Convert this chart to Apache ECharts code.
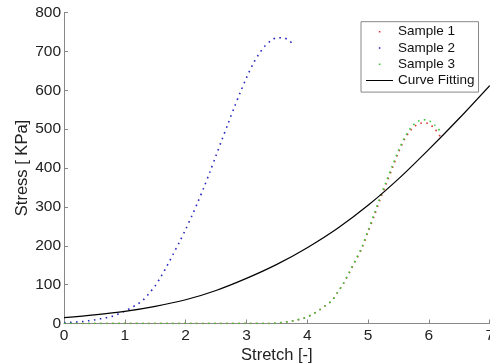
<!DOCTYPE html>
<html>
<head>
<meta charset="utf-8">
<script src="https://cdn.jsdelivr.net/npm/echarts@6/dist/echarts.min.js"></script>
<style>
    html, body { margin: 0; padding: 0; background: #fff; }
    #chart { width: 490px; height: 364px; }
</style>
</head>
<body>
<div id="chart"></div>
<script>
    // sample 2 (the early, blue curve)
    let stretch2 = [0, 0.1, 0.2, 0.3, 0.4, 0.5, 0.6, 0.7, 0.8, 0.9,
        1.0, 1.1, 1.2, 1.3, 1.4, 1.5, 1.6, 1.7, 1.8, 1.9,
        2.0, 2.1, 2.2, 2.3, 2.4, 2.5, 2.6, 2.7, 2.8, 2.9,
        3.0, 3.1, 3.2, 3.3, 3.4, 3.5, 3.6, 3.7, 3.76];
    let stress2 = [2, 3, 4, 5, 7, 9, 12, 15, 19, 25,
        32, 40, 49, 60, 78, 97, 122, 150, 180, 210,
        242, 276, 312, 350, 390, 432, 474, 515, 556, 595,
        632, 665, 692, 713, 727, 735, 735, 728, 719];

    // samples 1 and 3 (late curves)
    let stretch13 = [0, 1, 2, 3, 3.4, 3.5, 3.6, 3.7, 3.8, 3.9,
        4.0, 4.1, 4.2, 4.3, 4.4, 4.5, 4.6, 4.7, 4.8, 4.9,
        5.0, 5.1, 5.2, 5.3, 5.4, 5.5, 5.6, 5.7, 5.8, 5.9,
        6.0, 6.1, 6.2];
    let stress1 = [0, 0, 0, 0, 0, 1, 3, 5, 8, 12,
        17, 25, 35, 46, 58, 80, 104, 133, 163, 194,
        236, 276, 320, 360, 400, 440, 474, 497, 511, 516,
        514, 500, 478];
    let stress3 = [0, 0, 0, 0, 0, 1, 3, 5, 8, 12,
        17, 25, 35, 46, 58, 80, 105, 135, 165, 197,
        240, 282, 326, 366, 406, 445, 478, 503, 518, 524,
        522, 510, 492];

    // fitted curve
    let stretchFit = [0, 0.5, 1, 1.5, 2, 2.5, 3, 3.5, 4, 4.5, 5, 5.5, 6, 6.5, 7];
    let stressFit = [15, 22, 31, 44, 61, 85, 116, 152, 195, 245, 304, 372, 448, 528, 612];

    let xTicks = [0, 1, 2, 3, 4, 5, 6, 7];
    let yTicks = [0, 100, 200, 300, 400, 500, 600, 700, 800];

    let pair = (xs, ys) => xs.map((x, i) => [x, ys[i]]);

    let dotIcon = 'path://M0,0h0.01v0.01h-0.01z M12.8,5.2h1.6v1.6h-1.6z M26.99,11.99h0.01v0.01h-0.01z';
    let lineIcon = 'path://M0,5.5h27v1h-27z M0,0h0.01v0.01h-0.01z M26.99,11.99h0.01v0.01h-0.01z';

    let dotted = (color) => ({
        type: 'line',
        smooth: 0.3,
        showSymbol: false,
        symbol: 'none',
        lineStyle: {color: color, width: 1.6, type: [1.6, 4.4]},
        itemStyle: {color: color}
    });

    let myChart = echarts.init(document.getElementById('chart'), null, {renderer: 'canvas'});
    let font = 'Liberation Sans, Arial, Helvetica, sans-serif';

    let option = {
        animation: false,
        textStyle: {fontFamily: font},
        grid: {left: 64, right: 0.3, top: 12.5, bottom: 40.5, containLabel: false, outerBoundsMode: 'none'},
        xAxis: {
            type: 'value',
            min: xTicks[0],
            max: xTicks[xTicks.length - 1],
            interval: 1,
            name: 'Stretch [-]',
            nameLocation: 'middle',
            nameGap: 23,
            nameMoveOverlap: false,
            nameTextStyle: {fontSize: 16.5, color: '#222', fontFamily: font},
            axisLine: {lineStyle: {color: '#888', width: 1}},
            axisTick: {inside: true, length: 4, lineStyle: {color: '#888'}},
            axisLabel: {fontSize: 15.5, color: '#222', margin: 4, fontFamily: font, showMaxLabel: true},
            splitLine: {show: false}
        },
        yAxis: {
            type: 'value',
            min: yTicks[0],
            max: yTicks[yTicks.length - 1],
            interval: 100,
            name: 'Stress [ KPa]',
            nameLocation: 'middle',
            nameGap: 33,
            nameMoveOverlap: false,
            nameTextStyle: {fontSize: 16.5, color: '#222', fontFamily: font},
            axisLine: {show: true, lineStyle: {color: '#888', width: 1}},
            axisTick: {show: true, inside: true, length: 4, lineStyle: {color: '#888'}},
            axisLabel: {fontSize: 15.5, color: '#222', margin: 3, fontFamily: font},
            splitLine: {show: false}
        },
        legend: {
            orient: 'vertical',
            left: 361,
            top: 21.7,
            padding: [3, 4, 4.5, 5],
            itemGap: 2.3,
            itemWidth: 27,
            itemHeight: 12,
            backgroundColor: '#fff',
            borderColor: '#888',
            borderWidth: 1,
            borderRadius: 0,
            textStyle: {fontSize: 13.5, color: '#111', fontFamily: font},
            itemStyle: {borderWidth: 0},
            lineStyle: {width: 0},
            data: [
                {name: 'Sample 1', icon: dotIcon},
                {name: 'Sample 2', icon: dotIcon},
                {name: 'Sample 3', icon: dotIcon},
                {name: 'Curve Fitting', icon: lineIcon}
            ]
        },
        series: [
            Object.assign(dotted('#d83a3a'), {name: 'Sample 1', data: pair(stretch13, stress1)}),
            Object.assign(dotted('#2a2ac0'), {name: 'Sample 2', data: pair(stretch2, stress2)}),
            Object.assign(dotted('#3cc83c'), {name: 'Sample 3', data: pair(stretch13, stress3)}),
            {
                name: 'Curve Fitting',
                type: 'line',
                smooth: 0.3,
                showSymbol: false,
                symbol: 'none',
                data: pair(stretchFit, stressFit),
                lineStyle: {color: '#000', width: 1.2},
                itemStyle: {color: '#000'}
            }
        ]
    };
    myChart.setOption(option);
</script>
</body>
</html>
